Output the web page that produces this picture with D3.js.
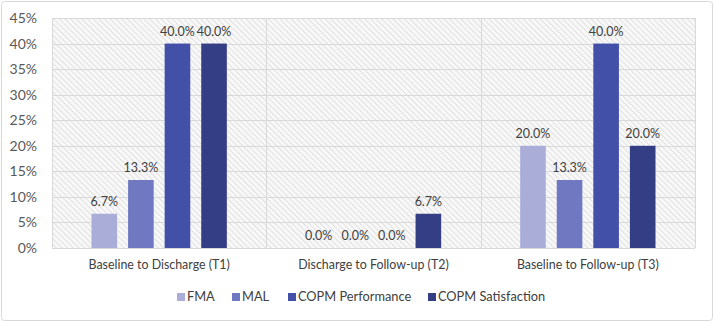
<!DOCTYPE html>
<html><head><meta charset="utf-8">
<script src="https://cdn.jsdelivr.net/npm/d3@7"></script>
<style>body{margin:0;background:#fff;} svg{display:block;}</style>
</head><body>
<svg id="chart" width="714" height="322"></svg>
<script>
const categories = ["Baseline to Discharge (T1)", "Discharge to Follow-up (T2)", "Baseline to Follow-up (T3)"];
const seriesNames = ["FMA", "MAL", "COPM Performance", "COPM Satisfaction"];
const FMA = [6.7, 0.0, 20.0];
const MAL = [13.3, 0.0, 13.3];
const COPMPerformance = [40.0, 0.0, 40.0];
const COPMSatisfaction = [40.0, 6.7, 20.0];
const yTicks = [0, 5, 10, 15, 20, 25, 30, 35, 40, 45];
const colors = ["#a9add8", "#6f78c0", "#4350a8", "#343e85"];
const seriesValues = [FMA, MAL, COPMPerformance, COPMSatisfaction];

const svg = d3.select("#chart");
const font = "Lato, 'Open Sans', sans-serif";
const m = {left: 52, right: 19, top: 18, bottom: 74};
const W = 714, H = 322;

svg.append("rect").attr("x", 1.5).attr("y", 1.5).attr("width", W - 3).attr("height", H - 3)
  .attr("rx", 3).attr("fill", "#fff").attr("stroke", "#d9d9d9");

const defs = svg.append("defs");
const pat = defs.append("pattern").attr("id", "hatch").attr("patternUnits", "userSpaceOnUse")
  .attr("width", 4).attr("height", 4).attr("patternTransform", "rotate(-45)");
pat.append("rect").attr("width", 4).attr("height", 4).attr("fill", "#f8f8f8");
pat.append("line").attr("x1", 0).attr("y1", 0).attr("x2", 0).attr("y2", 4)
  .attr("stroke", "#d2d2d2").attr("stroke-width", 1.2);

const x0 = d3.scaleBand().domain(categories).range([m.left, W - m.right]).paddingInner(0).paddingOuter(0);
const x1 = d3.scaleBand().domain(seriesNames).range([0, x0.bandwidth()]).paddingInner(0.3).paddingOuter(1.08);
const y = d3.scaleLinear().domain([0, 45]).range([H - m.bottom, m.top]);

svg.append("rect").attr("x", m.left).attr("y", m.top).attr("width", W - m.right - m.left)
  .attr("height", y(0) - m.top).attr("fill", "url(#hatch)");

// horizontal gridlines
svg.append("g").selectAll("line").data(yTicks).join("line")
  .attr("x1", m.left).attr("x2", W - m.right)
  .attr("y1", d => Math.round(y(d)) + 0.5).attr("y2", d => Math.round(y(d)) + 0.5)
  .attr("stroke", "#d9d9d9").attr("stroke-width", 1);

// vertical category separators
const seps = categories.map(c => x0(c)).concat([x0(categories[2]) + x0.bandwidth()]);
svg.append("g").selectAll("line").data(seps).join("line")
  .attr("x1", d => Math.round(d) + 0.5).attr("x2", d => Math.round(d) + 0.5)
  .attr("y1", m.top).attr("y2", y(0))
  .attr("stroke", "#d9d9d9").attr("stroke-width", 1);

// y axis labels
const yAxis = d3.axisLeft(y).tickValues(yTicks).tickFormat(d => d + "%").tickSize(0).tickPadding(15);
const ya = svg.append("g").attr("transform", `translate(${m.left},0)`).call(yAxis);
ya.select(".domain").remove();
ya.selectAll("text").attr("font-family", font).attr("font-size", 14).attr("fill", "#595959");

// x axis labels
const xAxis = d3.axisBottom(x0).tickSize(0).tickPadding(12);
const xa = svg.append("g").attr("transform", `translate(0,${y(0)})`).call(xAxis);
xa.select(".domain").remove();
xa.selectAll("text").attr("font-family", font).attr("font-size", 12.4).attr("fill", "#404040");

// bars
const data = [];
categories.forEach((c, ci) => seriesNames.forEach((s, si) => data.push({c, s, si, v: seriesValues[si][ci]})));
svg.append("g").selectAll("rect").data(data).join("rect")
  .attr("x", d => x0(d.c) + x1(d.s)).attr("width", x1.bandwidth())
  .attr("y", d => y(d.v)).attr("height", d => y(0) - y(d.v))
  .attr("fill", d => colors[d.si]);

svg.append("g").selectAll("text").data(data).join("text")
  .attr("x", d => x0(d.c) + x1(d.s) + x1.bandwidth() / 2)
  .attr("y", d => y(d.v) - 8)
  .attr("text-anchor", "middle").attr("font-family", font).attr("font-size", 12.5).attr("fill", "#404040")
  .text(d => d.v.toFixed(1) + "%");

// legend
const legX = [177, 232, 288, 428];
const lg = svg.append("g").selectAll("g").data(seriesNames).join("g")
  .attr("transform", (d, i) => `translate(${legX[i]},297)`);
lg.append("rect").attr("x", 0).attr("y", -4).attr("width", 8).attr("height", 8).attr("fill", (d, i) => colors[i]);
lg.append("text").attr("x", 10).attr("y", 0).attr("dy", "0.35em").attr("font-family", font)
  .attr("font-size", 12.8).attr("fill", "#404040").text(d => d);
</script>
</body></html>
